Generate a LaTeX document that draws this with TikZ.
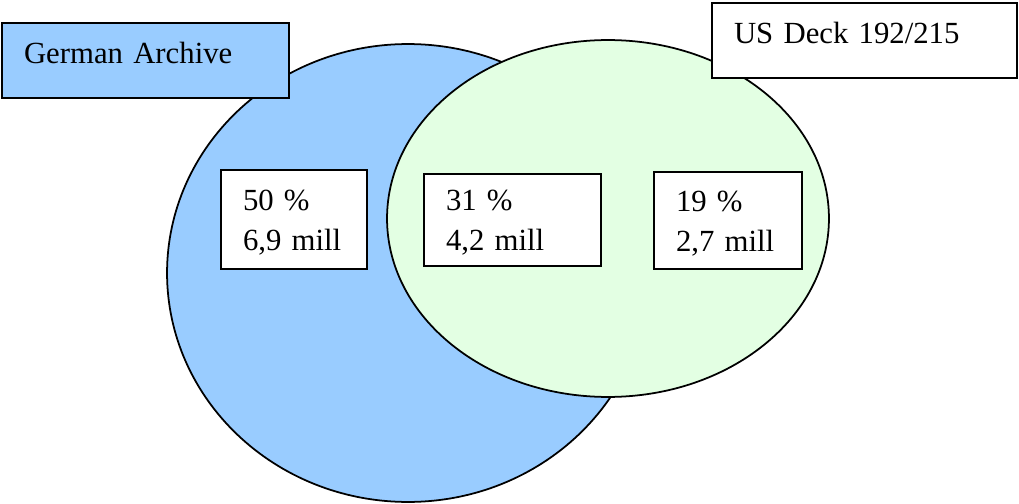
\documentclass[tikz,border=0pt]{standalone}
\usepackage{fontspec}
\setmainfont{Liberation Serif}
\usepackage{tikz}

\definecolor{archiveblue}{RGB}{153,204,255}
\definecolor{deckgreen}{RGB}{227,255,227}

\begin{document}
\begin{tikzpicture}[x=0.02cm, y=-0.02cm, line width=1pt,
    textbox/.style={draw, fill=white, align=left, inner xsep=0.44cm, inner ysep=0pt,
      font=\fontsize{17.5}{22.8}\selectfont},
    numbox/.style={textbox, text height=0.4cm, text depth=0.78cm},
    titlebox/.style={textbox, text height=0.5cm, text depth=0.4cm, minimum height=1.5cm}]
  \useasboundingbox (0,0) rectangle (1019,504);

  % The two sets
  \draw[fill=archiveblue] (408,273) ellipse (4.82cm and 4.58cm);
  \draw[fill=deckgreen] (608,218.5) ellipse (4.42cm and 3.57cm);

  % Set names
  \node[titlebox, fill=archiveblue, text width=4.86cm] (archive) at (145.5,60.5) {German Archive};
  \node[titlebox, text width=5.22cm] (deck) at (864.5,40.5) {US Deck 192/215};

  % Shares of each region
  \node[numbox, text width=2.04cm, minimum height=1.98cm] (onlyarchive) at (294,219.5) {50 \%\\6,9 mill};
  \node[numbox, text width=2.66cm, minimum height=1.84cm] (both) at (512.5,220) {31 \%\\4,2 mill};
  \node[numbox, text width=2.08cm, minimum height=1.94cm] (onlydeck) at (728,220.5) {19 \%\\2,7 mill};
\end{tikzpicture}
\end{document}
